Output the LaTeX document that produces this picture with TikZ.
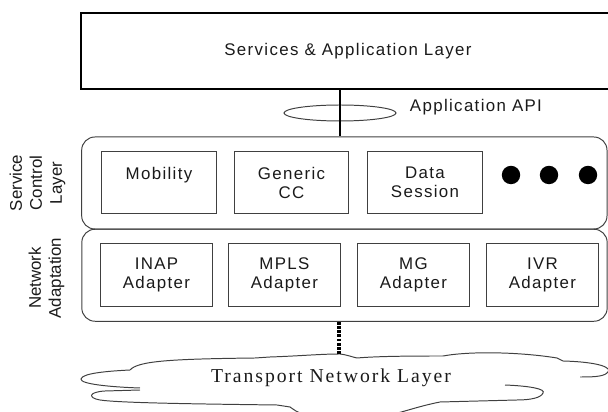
\documentclass[tikz,border=0pt]{standalone}
\usepackage{fontspec}
\setmainfont{Liberation Sans}
\newfontfamily\spacedfont{Liberation Sans}[LetterSpace=8]
\newfontfamily\cloudfont{Liberation Serif}[LetterSpace=10]
\usepackage{tikz}
\usetikzlibrary{shapes.geometric}
\definecolor{ink}{HTML}{1A1A1A}
\definecolor{edge}{HTML}{404040}
\tikzset{
  layer/.style={draw=black, line width=1.4pt, inner sep=0pt},
  band/.style={draw=edge, line width=0.7pt, rounded corners=0.33cm, inner sep=0pt,
    minimum width=13.13cm, minimum height=2.3cm},
  comp/.style={draw=edge, line width=0.7pt, inner sep=0pt, align=center, text=ink,
    font=\spacedfont\fontsize{12}{13.5}\selectfont, minimum width=2.86cm, minimum height=1.525cm},
  adap/.style={comp, minimum width=2.775cm, minimum height=1.55cm},
  lab/.style={text=ink, font=\spacedfont\fontsize{12}{14}\selectfont},
  side/.style={text=ink, font=\fontsize{12}{14.2}\selectfont, rotate=90, align=center},
  bigdot/.style={circle, fill=black, inner sep=0pt, minimum size=0.46cm},
  apiring/.style={draw=edge, line width=0.7pt, ellipse, inner sep=0pt,
    minimum width=2.8cm, minimum height=0.4cm},
  bus/.style={draw=black, line width=1.4pt},
  link/.style={draw=black, line width=2.2pt, dash pattern=on 2pt off 1pt},
  cloudline/.style={draw=edge, line width=0.7pt},
}

\begin{document}
\begin{tikzpicture}[x=0.025cm, y=-0.025cm]
  \useasboundingbox (0,0) rectangle (608,412);

  % top layer (runs off the right edge)
  \node[layer, lab, minimum width=13.365cm, minimum height=1.89cm] (sal) at (348,51.2)
    {Services \& Application Layer};

  % API
  \node[apiring] (api) at (340,113) {};
  \node[lab, anchor=west] (apitxt) at (405,107) {Application API};

  % service control layer
  \node[band] (scl) at (344.35,183) {};
  \node[side] (scltxt) at (37.5,183) {Service\\Control\\Layer};
  \node[comp] (mob) at (159,182.5) {Mobility\\\mbox{}};
  \node[comp] (gcc) at (291.5,182.5) {Generic\\CC};
  \node[comp] (data) at (425,182.5) {Data\\Session};
  \foreach \i/\x in {1/511,2/549,3/588}
    \node[bigdot] (dot\i) at (\x,175) {};

  % network adaptation
  \node[band] (na) at (344.5,275.25) {};
  \node[side] (natxt) at (46.5,278) {Network\\Adaptation};
  \node[adap] (inap) at (156.5,275) {INAP\\Adapter};
  \node[adap] (mpls) at (284.5,275) {MPLS\\Adapter};
  \node[adap] (mg) at (413.5,275) {MG\\Adapter};
  \node[adap] (ivr) at (542.5,275) {IVR\\Adapter};

  \draw[bus] (api |- sal.south) -- (api |- scl.north);

  % transport cloud
  \coordinate (cloudtop) at (339,354);
  \draw[cloudline] (140,388) .. controls (110,387) and (80,384) .. (81,379)
    .. controls (82,373) and (110,371) .. (130,370)
    .. controls (138,361) and (170,359) .. (255,358) -- (270,357)
    .. controls (300,356) and (320,354) .. (340,354)
    .. controls (348,355) and (352,357) .. (357,358)
    .. controls (380,356) and (420,356) .. (443,356)
    .. controls (470,351) and (520,352) .. (557,358) -- (563,361)
    .. controls (600,362) and (614,368) .. (607,373)
    .. controls (603,377) and (590,377) .. (580,377);
  \draw[cloudline] (505,385) .. controls (530,386) and (546,389) .. (543,393)
    .. controls (541,398) and (530,400) .. (517,400) -- (440,402)
    .. controls (410,408) and (395,416) .. (370,418) -- (320,418)
    .. controls (300,414) .. (290,407) -- (277,405)
    .. controls (200,404) and (120,403) .. (100,400)
    .. controls (88,398) and (88,392) .. (105,391) -- (140,390);
  \node[text=ink, font=\cloudfont\fontsize{14}{16}\selectfont] (tnl) at (331,378)
    {Transport Network Layer};

  \draw[link] (na.south -| cloudtop) -- (cloudtop);
\end{tikzpicture}
\end{document}
